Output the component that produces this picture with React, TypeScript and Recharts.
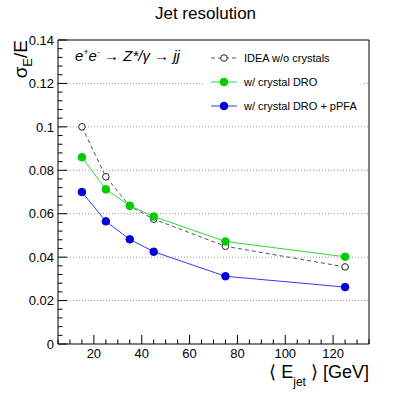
import { ComposedChart, Line, ReferenceLine, XAxis, YAxis } from "recharts";

const FONT = "'Liberation Sans', Arial, Helvetica, sans-serif";

// beam energy per jet [GeV]
const E_JET = [15, 25, 35, 45, 75, 125];
// sigma_E / E
const IDEA = [0.1, 0.077, 0.0635, 0.0575, 0.045, 0.0355];
const DRO = [0.086, 0.0712, 0.0637, 0.0587, 0.0472, 0.0402];
const PPFA = [0.07, 0.0565, 0.0482, 0.0425, 0.0312, 0.0262];

const X_LABELS = [20, 40, 60, 80, 100, 120];
const Y_LABELS = [0, 0.02, 0.04, 0.06, 0.08, 0.1, 0.12, 0.14];
const GRID_Y = [0.02, 0.04, 0.06, 0.08, 0.1, 0.12];
const X_DOMAIN: [number, number] = [5, 135];
const Y_DOMAIN: [number, number] = [0, 0.14];

const SERIES = [
  { key: "idea", label: "IDEA w/o crystals", line: "#555", dash: "4 3", dot: "#fff", ring: "#222" },
  { key: "dro", label: "w/ crystal DRO", line: "#33d633", dash: undefined, dot: "#00cc00", ring: "#00cc00" },
  { key: "ppfa", label: "w/ crystal DRO + pPFA", line: "#3838ee", dash: undefined, dot: "#0000d8", ring: "#0000d8" },
];

const data = E_JET.map((e, i) => ({ e, idea: IDEA[i], dro: DRO[i], ppfa: PPFA[i] }));

// ROOT style: minor ticks every 5 GeV / 0.004
const xTicks: number[] = [];
for (let v = X_DOMAIN[0]; v <= X_DOMAIN[1]; v += 5) xTicks.push(v);
const yTicks: number[] = [];
for (let i = 0; i <= 35; i++) yTicks.push(+(i * 0.004).toFixed(3));

function XTick({ x, y, payload }: any) {
  const major = X_LABELS.includes(payload.value);
  return (
    <g>
      <line x1={x} x2={x} y1={y} y2={y - (major ? 9 : 4.5)} stroke="#000" />
      {major && (
        <text x={x} y={y + 14} textAnchor="middle" fontSize={13} fontFamily={FONT} fill="#000">
          {payload.value}
        </text>
      )}
    </g>
  );
}

function YTick({ x, y, payload }: any) {
  const major = Y_LABELS.includes(payload.value);
  return (
    <g>
      <line x1={x} x2={x + (major ? 9 : 4.5)} y1={y} y2={y} stroke="#000" />
      {major && (
        <text x={x - 4} y={y} dy="0.36em" textAnchor="end" fontSize={13} fontFamily={FONT} fill="#000">
          {String(payload.value)}
        </text>
      )}
    </g>
  );
}

export default function App() {
  return (
    <div style={{ position: "absolute", left: 0, top: 0, width: 411, height: 396, background: "#fff" }}>
      <ComposedChart width={411} height={396} data={data} margin={{ top: 39, right: 41, bottom: 51, left: 57 }}>
        <XAxis dataKey="e" type="number" domain={X_DOMAIN} ticks={xTicks} interval={0} height={1}
          tickSize={0} tickMargin={0} tickLine={false} tick={<XTick />} axisLine={{ stroke: "#000" }} />
        <XAxis xAxisId="top" orientation="top" type="number" domain={X_DOMAIN} height={1}
          tick={false} tickLine={false} axisLine={{ stroke: "#000" }} />
        <YAxis type="number" domain={Y_DOMAIN} ticks={yTicks} interval={0} width={1}
          tickSize={0} tickMargin={0} tickLine={false} tick={<YTick />} axisLine={{ stroke: "#000" }} />
        <YAxis yAxisId="right" orientation="right" type="number" domain={Y_DOMAIN} width={1}
          tick={false} tickLine={false} axisLine={{ stroke: "#000" }} />
        {GRID_Y.map(v => (
          <ReferenceLine key={v} y={v} stroke="#9a9a9a" strokeDasharray="1 2" />
        ))}
        {SERIES.map(s => (
          <Line key={s.key} type="linear" dataKey={s.key} stroke={s.line} strokeWidth={1}
            strokeDasharray={s.dash} isAnimationActive={false}
            dot={{ r: s.key === "idea" ? 3.3 : 3.8, fill: s.dot, stroke: s.ring, strokeWidth: 1, strokeDasharray: "0" }} />
        ))}
      </ComposedChart>

      <svg width={411} height={396} style={{ position: "absolute", left: 0, top: 0, pointerEvents: "none" }}
        fontFamily={FONT}>
        <text x={205.5} y={19} textAnchor="middle" fontSize={17} fill="#000">Jet resolution</text>

        <text transform="rotate(-90)" x={-40} y={27} textAnchor="end" fontSize={19} fill="#000">
          σ<tspan fontSize={13} dy={5}>E</tspan><tspan dy={-5}>/E</tspan>
        </text>

        <text x={369} y={378} textAnchor="end" fontSize={18} fill="#000">
          ⟨ E<tspan fontSize={12} dy={8}>jet</tspan><tspan dy={-8}> ⟩ [GeV]</tspan>
        </text>

        <text x={75} y={61} fontSize={15} fontStyle="italic" fill="#000">
          e<tspan fontSize={9} dy={-6}>+</tspan><tspan dy={6}>e</tspan><tspan fontSize={9} dy={-6}>-</tspan>
          <tspan dy={6}> → Z*/γ → jj</tspan>
        </text>

        <rect x={203} y={46} width={159} height={72} fill="#fff" />
        {SERIES.map((s, i) => {
          const cy = 58 + i * 24;
          return (
            <g key={s.key}>
              <line x1={211} x2={237} y1={cy} y2={cy} stroke={s.line} strokeDasharray={s.dash} />
              <circle cx={224} cy={cy} r={s.key === "idea" ? 3.3 : 3.8} fill={s.dot} stroke={s.ring} />
              <text x={244} y={cy} dy="0.36em" fontSize={11} fill="#000">{s.label}</text>
            </g>
          );
        })}
      </svg>
    </div>
  );
}
